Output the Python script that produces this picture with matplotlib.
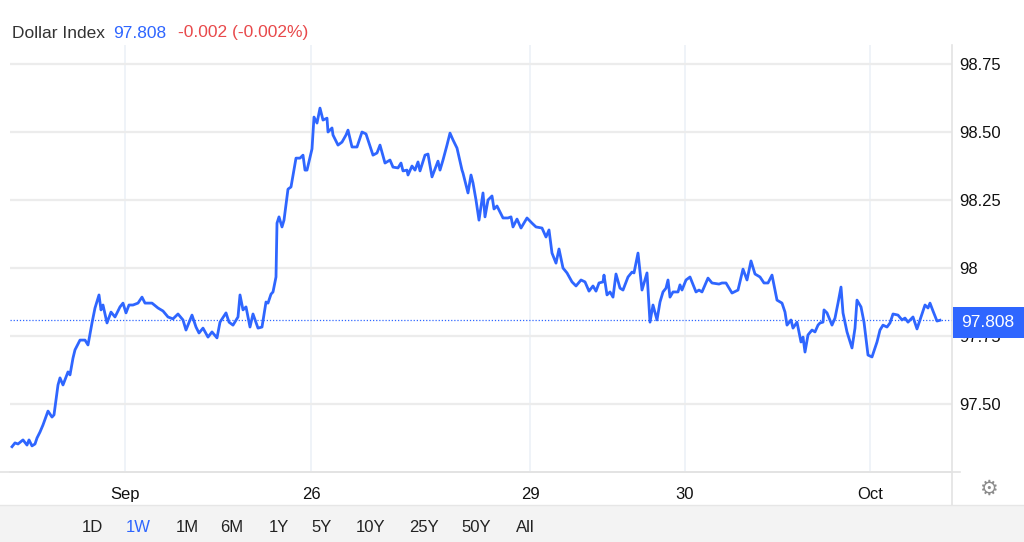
import matplotlib
matplotlib.use("Agg")
import matplotlib.pyplot as plt
from matplotlib.patches import Rectangle
from matplotlib.lines import Line2D

plt.rcParams['font.family'] = ['Liberation Sans', 'DejaVu Sans']

# ---------- DATA ----------
# time in 12-minute steps since the start of the window
t_steps = [
    2, 5, 8, 13, 17, 19, 22, 25, 27, 30, 33, 38, 42, 44, 48, 50, 53, 58, 60, 63,
    65, 70, 75, 78, 82, 85, 89, 91, 93, 97, 101, 105, 110, 113, 116, 119, 123, 128, 132, 135,
    142, 148, 153, 158, 163, 168, 173, 176, 182, 186, 189, 193, 198, 202, 207, 210, 216, 219, 223, 228,
    230, 233, 236, 240, 243, 248, 252, 256, 258, 261, 263, 266, 267, 269, 272, 274, 278, 281, 286, 290,
    293, 295, 297, 302, 304, 307, 310, 313, 317, 318, 322, 323, 328, 332, 336, 338, 342, 347, 352, 356,
    358, 363, 367, 370, 375, 380, 383, 388, 391, 393, 397, 398, 402, 405, 408, 410, 415, 418, 422, 428,
    430, 433, 437, 440, 443, 447, 452, 453, 458, 461, 463, 466, 469, 473, 475, 478, 482, 484, 487, 493,
    498, 501, 503, 507, 511, 517, 522, 526, 532, 536, 539, 542, 546, 549, 553, 557, 562, 566, 571, 575,
    579, 583, 586, 589, 593, 594, 597, 600, 603, 606, 610, 613, 618, 622, 624, 628, 632, 637, 640, 643,
    647, 650, 653, 656, 658, 660, 663, 668, 670, 672, 676, 680, 686, 689, 692, 698, 702, 709, 712, 716,
    722, 728, 733, 737, 741, 745, 750, 754, 758, 762, 767, 772, 775, 777, 781, 783, 787, 791, 793, 795,
    798, 802, 805, 808, 810, 813, 814, 817, 822, 825, 828, 831, 833, 837, 842, 845, 847, 851, 854, 858,
    862, 867, 870, 873, 877, 880, 883, 888, 892, 895, 898, 903, 907, 911, 915, 918, 920, 923, 927, 930,
]
dxy = [
    97.343, 97.357, 97.353, 97.368, 97.349, 97.368, 97.346, 97.353, 97.375, 97.397, 97.423, 97.474, 97.452, 97.460, 97.570, 97.596, 97.570, 97.618, 97.607, 97.669,
    97.699, 97.735, 97.735, 97.717, 97.798, 97.853, 97.901, 97.846, 97.864, 97.798, 97.838, 97.820, 97.857, 97.871, 97.835, 97.864, 97.864, 97.871, 97.893, 97.871,
    97.871, 97.853, 97.842, 97.820, 97.813, 97.831, 97.809, 97.772, 97.827, 97.783, 97.761, 97.779, 97.746, 97.765, 97.743, 97.801, 97.835, 97.801, 97.790, 97.820,
    97.901, 97.846, 97.857, 97.783, 97.831, 97.779, 97.783, 97.875, 97.871, 97.904, 97.912, 97.967, 98.165, 98.188, 98.151, 98.176, 98.290, 98.298, 98.404, 98.404,
    98.415, 98.360, 98.360, 98.438, 98.555, 98.533, 98.588, 98.544, 98.551, 98.500, 98.515, 98.489, 98.452, 98.463, 98.489, 98.507, 98.445, 98.445, 98.500, 98.493,
    98.471, 98.415, 98.423, 98.452, 98.386, 98.397, 98.371, 98.368, 98.386, 98.357, 98.360, 98.342, 98.375, 98.360, 98.390, 98.357, 98.415, 98.419, 98.335, 98.393,
    98.360, 98.397, 98.452, 98.496, 98.471, 98.441, 98.360, 98.349, 98.276, 98.342, 98.313, 98.250, 98.176, 98.276, 98.188, 98.250, 98.265, 98.217, 98.228, 98.184,
    98.184, 98.188, 98.151, 98.180, 98.147, 98.184, 98.165, 98.151, 98.147, 98.114, 98.140, 98.055, 98.018, 98.070, 98.000, 97.982, 97.949, 97.934, 97.956, 97.949,
    97.915, 97.934, 97.915, 97.945, 97.949, 97.974, 97.901, 97.912, 97.893, 97.978, 97.926, 97.919, 97.967, 97.985, 97.982, 98.055, 97.919, 97.982, 97.801, 97.864,
    97.809, 97.875, 97.912, 97.926, 97.956, 97.893, 97.912, 97.912, 97.938, 97.919, 97.956, 97.967, 97.912, 97.919, 97.912, 97.963, 97.945, 97.941, 97.945, 97.945,
    97.908, 97.919, 97.996, 97.956, 98.026, 97.978, 97.967, 97.945, 97.945, 97.974, 97.882, 97.871, 97.838, 97.790, 97.809, 97.779, 97.801, 97.728, 97.746, 97.691,
    97.754, 97.772, 97.765, 97.790, 97.798, 97.801, 97.846, 97.835, 97.790, 97.816, 97.871, 97.930, 97.835, 97.765, 97.706, 97.779, 97.882, 97.857, 97.801, 97.680,
    97.673, 97.728, 97.772, 97.790, 97.783, 97.798, 97.831, 97.827, 97.809, 97.816, 97.801, 97.820, 97.776, 97.820, 97.864, 97.853, 97.871, 97.842, 97.805, 97.808,
]
last_price = 97.808
day_ticks = [115, 301, 520, 675, 860]
day_labels = ["Sep", "26", "29", "30", "Oct"]
y_ticks = [97.50, 97.75, 98.00, 98.25, 98.50, 98.75]
y_labels = ["97.50", "97.75", "98", "98.25", "98.50", "98.75"]
ranges = ["1D", "1W", "1M", "6M", "1Y", "5Y", "10Y", "25Y", "50Y", "All"]
range_x = [92, 138, 187, 232, 279, 322, 371, 424, 476, 525]

# ---------- STYLE ----------
BLUE = "#2f66ff"
RED = "#e8494b"
W, H = 1024, 542

fig = plt.figure(figsize=(W / 100, H / 100), dpi=100)
ax = fig.add_axes([10 / W, (H - 472) / H, (952 - 10) / W, (472 - 45) / H])

ax.plot(t_steps, dxy, color=BLUE, lw=2.0, solid_joinstyle="round", zorder=3)
ax.axhline(last_price, color=BLUE, lw=0.9, ls=(0, (1, 1.5)), zorder=2)

ax.set_xlim(0, 942)
ax.set_ylim(97.25, 98.82)

ax.set_xticks(day_ticks)
ax.set_xticklabels(day_labels)
ax.set_yticks(y_ticks)
ax.set_yticklabels(y_labels)
ax.yaxis.tick_right()
ax.tick_params(axis="y", length=0, pad=5, labelsize=12, labelcolor="#111111")
ax.tick_params(axis="x", length=0, pad=11, labelsize=12, labelcolor="#111111")

ax.grid(axis="y", color="#ececec", lw=1.6)
ax.grid(axis="x", color="#eef2f8", lw=1.3)
ax.set_axisbelow(True)

for side in ["top", "left"]:
    ax.spines[side].set_visible(False)
ax.spines["bottom"].set_color("#e3e3e3")
ax.spines["bottom"].set_linewidth(1.2)
ax.spines["right"].set_color("#e3e3e3")
ax.spines["right"].set_linewidth(1.2)

# last price box on the right axis (covers part of the 97.75 label)
y_px = ax.transData.transform((0, last_price))[1]
box_h = 31
fig.add_artist(Rectangle((953 / W, (y_px - box_h / 2 - 2) / H), (W - 953) / W, box_h / H,
                         transform=fig.transFigure, fc=BLUE, ec="none", zorder=5))
fig.text(988 / W, (y_px - 2.5) / H, f"{last_price:.3f}", fontsize=12.5, color="white",
         ha="center", va="center", zorder=6)

# header
fig.text(12 / W, 1 - 33 / H, "Dollar Index", fontsize=12.5, color="#333333", va="center")
fig.text(113 / W, 1 - 33 / H, f"{last_price:.3f}", fontsize=12.5, color=BLUE, va="center")
fig.text(178 / W, 1 - 33 / H, "-0.002 (-0.002%)", fontsize=12.5, color=RED, va="center")

# bottom strip, axis divider and gear
fig.add_artist(Line2D([0, 960 / W], [(H - 472) / H] * 2, color="#e3e3e3", lw=1.2))
fig.add_artist(Line2D([952 / W, 952 / W], [(H - 505) / H, (H - 472) / H], color="#e3e3e3", lw=1.2))
fig.patches.append(Rectangle((0, 0), 1, (H - 505) / H, transform=fig.transFigure,
                             fc="#f3f3f3", ec="none", zorder=0))
fig.add_artist(Line2D([0, 1], [(H - 505) / H] * 2, color="#e6e6e6", lw=1))
fig.text(988 / W, 1 - 489 / H, "\u2699", fontsize=15, color="#8c8c8c",
         ha="center", va="center", family="DejaVu Sans")

for lab, x in zip(ranges, range_x):
    fig.text(x / W, 1 - 528 / H, lab, fontsize=12, ha="center", va="center",
             color=BLUE if lab == "1W" else "#222222")

fig.savefig("out.png", dpi=100)
